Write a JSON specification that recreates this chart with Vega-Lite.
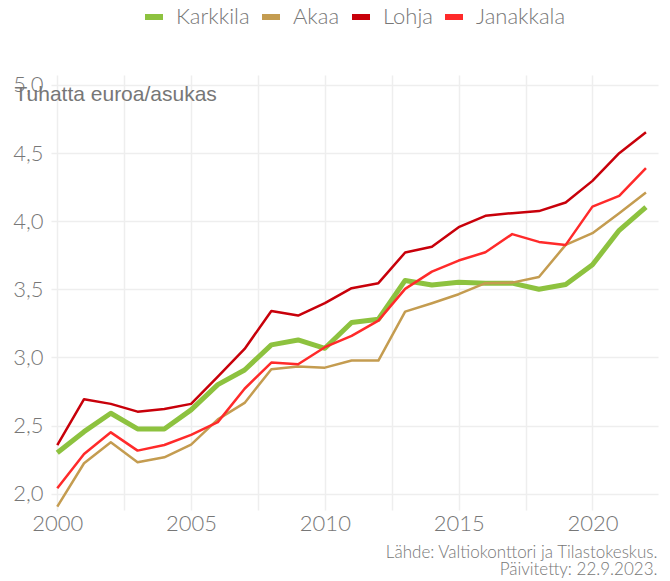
{
  "$schema": "https://vega.github.io/schema/vega-lite/v6.json",
  "width": 607,
  "height": 435,
  "autosize": {"type": "none"},
  "padding": {"left": 51, "top": 75, "right": 12, "bottom": 71},
  "background": "white",
  "config": {
    "view": {"stroke": null},
    "font": "Lato",
    "axis": {
      "grid": true,
      "gridColor": "#eeeeee",
      "gridWidth": 1.5,
      "domain": false,
      "ticks": false,
      "labelColor": "#777777",
      "labelFont": "Lato",
      "labelFontWeight": 300,
      "labelFontSize": 22
    },
    "legend": {
      "labelColor": "#777777",
      "labelFont": "Lato",
      "labelFontWeight": 300,
      "labelFontSize": 22
    }
  },
  "data": {
    "values": [
      {"vuosi": 2000, "kunta": "Karkkila", "arvo": 2.30},
      {"vuosi": 2001, "kunta": "Karkkila", "arvo": 2.455},
      {"vuosi": 2002, "kunta": "Karkkila", "arvo": 2.59},
      {"vuosi": 2003, "kunta": "Karkkila", "arvo": 2.475},
      {"vuosi": 2004, "kunta": "Karkkila", "arvo": 2.475},
      {"vuosi": 2005, "kunta": "Karkkila", "arvo": 2.615},
      {"vuosi": 2006, "kunta": "Karkkila", "arvo": 2.80},
      {"vuosi": 2007, "kunta": "Karkkila", "arvo": 2.908},
      {"vuosi": 2008, "kunta": "Karkkila", "arvo": 3.092},
      {"vuosi": 2009, "kunta": "Karkkila", "arvo": 3.128},
      {"vuosi": 2010, "kunta": "Karkkila", "arvo": 3.067},
      {"vuosi": 2011, "kunta": "Karkkila", "arvo": 3.256},
      {"vuosi": 2012, "kunta": "Karkkila", "arvo": 3.28},
      {"vuosi": 2013, "kunta": "Karkkila", "arvo": 3.565},
      {"vuosi": 2014, "kunta": "Karkkila", "arvo": 3.532},
      {"vuosi": 2015, "kunta": "Karkkila", "arvo": 3.552},
      {"vuosi": 2016, "kunta": "Karkkila", "arvo": 3.545},
      {"vuosi": 2017, "kunta": "Karkkila", "arvo": 3.545},
      {"vuosi": 2018, "kunta": "Karkkila", "arvo": 3.50},
      {"vuosi": 2019, "kunta": "Karkkila", "arvo": 3.535},
      {"vuosi": 2020, "kunta": "Karkkila", "arvo": 3.68},
      {"vuosi": 2021, "kunta": "Karkkila", "arvo": 3.933},
      {"vuosi": 2022, "kunta": "Karkkila", "arvo": 4.103},
      {"vuosi": 2000, "kunta": "Akaa", "arvo": 1.905},
      {"vuosi": 2001, "kunta": "Akaa", "arvo": 2.223},
      {"vuosi": 2002, "kunta": "Akaa", "arvo": 2.377},
      {"vuosi": 2003, "kunta": "Akaa", "arvo": 2.23},
      {"vuosi": 2004, "kunta": "Akaa", "arvo": 2.267},
      {"vuosi": 2005, "kunta": "Akaa", "arvo": 2.36},
      {"vuosi": 2006, "kunta": "Akaa", "arvo": 2.545},
      {"vuosi": 2007, "kunta": "Akaa", "arvo": 2.666},
      {"vuosi": 2008, "kunta": "Akaa", "arvo": 2.913},
      {"vuosi": 2009, "kunta": "Akaa", "arvo": 2.933},
      {"vuosi": 2010, "kunta": "Akaa", "arvo": 2.925},
      {"vuosi": 2011, "kunta": "Akaa", "arvo": 2.977},
      {"vuosi": 2012, "kunta": "Akaa", "arvo": 2.977},
      {"vuosi": 2013, "kunta": "Akaa", "arvo": 3.336},
      {"vuosi": 2014, "kunta": "Akaa", "arvo": 3.398},
      {"vuosi": 2015, "kunta": "Akaa", "arvo": 3.464},
      {"vuosi": 2016, "kunta": "Akaa", "arvo": 3.545},
      {"vuosi": 2017, "kunta": "Akaa", "arvo": 3.549},
      {"vuosi": 2018, "kunta": "Akaa", "arvo": 3.59},
      {"vuosi": 2019, "kunta": "Akaa", "arvo": 3.826},
      {"vuosi": 2020, "kunta": "Akaa", "arvo": 3.912},
      {"vuosi": 2021, "kunta": "Akaa", "arvo": 4.059},
      {"vuosi": 2022, "kunta": "Akaa", "arvo": 4.21},
      {"vuosi": 2000, "kunta": "Lohja", "arvo": 2.357},
      {"vuosi": 2001, "kunta": "Lohja", "arvo": 2.693},
      {"vuosi": 2002, "kunta": "Lohja", "arvo": 2.659},
      {"vuosi": 2003, "kunta": "Lohja", "arvo": 2.602},
      {"vuosi": 2004, "kunta": "Lohja", "arvo": 2.622},
      {"vuosi": 2005, "kunta": "Lohja", "arvo": 2.659},
      {"vuosi": 2006, "kunta": "Lohja", "arvo": 2.859},
      {"vuosi": 2007, "kunta": "Lohja", "arvo": 3.062},
      {"vuosi": 2008, "kunta": "Lohja", "arvo": 3.341},
      {"vuosi": 2009, "kunta": "Lohja", "arvo": 3.307},
      {"vuosi": 2010, "kunta": "Lohja", "arvo": 3.398},
      {"vuosi": 2011, "kunta": "Lohja", "arvo": 3.508},
      {"vuosi": 2012, "kunta": "Lohja", "arvo": 3.545},
      {"vuosi": 2013, "kunta": "Lohja", "arvo": 3.77},
      {"vuosi": 2014, "kunta": "Lohja", "arvo": 3.813},
      {"vuosi": 2015, "kunta": "Lohja", "arvo": 3.956},
      {"vuosi": 2016, "kunta": "Lohja", "arvo": 4.039},
      {"vuosi": 2017, "kunta": "Lohja", "arvo": 4.059},
      {"vuosi": 2018, "kunta": "Lohja", "arvo": 4.074},
      {"vuosi": 2019, "kunta": "Lohja", "arvo": 4.137},
      {"vuosi": 2020, "kunta": "Lohja", "arvo": 4.296},
      {"vuosi": 2021, "kunta": "Lohja", "arvo": 4.499},
      {"vuosi": 2022, "kunta": "Lohja", "arvo": 4.653},
      {"vuosi": 2000, "kunta": "Janakkala", "arvo": 2.04},
      {"vuosi": 2001, "kunta": "Janakkala", "arvo": 2.291},
      {"vuosi": 2002, "kunta": "Janakkala", "arvo": 2.45},
      {"vuosi": 2003, "kunta": "Janakkala", "arvo": 2.316},
      {"vuosi": 2004, "kunta": "Janakkala", "arvo": 2.357},
      {"vuosi": 2005, "kunta": "Janakkala", "arvo": 2.431},
      {"vuosi": 2006, "kunta": "Janakkala", "arvo": 2.525},
      {"vuosi": 2007, "kunta": "Janakkala", "arvo": 2.77},
      {"vuosi": 2008, "kunta": "Janakkala", "arvo": 2.962},
      {"vuosi": 2009, "kunta": "Janakkala", "arvo": 2.95},
      {"vuosi": 2010, "kunta": "Janakkala", "arvo": 3.075},
      {"vuosi": 2011, "kunta": "Janakkala", "arvo": 3.158},
      {"vuosi": 2012, "kunta": "Janakkala", "arvo": 3.27},
      {"vuosi": 2013, "kunta": "Janakkala", "arvo": 3.503},
      {"vuosi": 2014, "kunta": "Janakkala", "arvo": 3.63},
      {"vuosi": 2015, "kunta": "Janakkala", "arvo": 3.711},
      {"vuosi": 2016, "kunta": "Janakkala", "arvo": 3.772},
      {"vuosi": 2017, "kunta": "Janakkala", "arvo": 3.905},
      {"vuosi": 2018, "kunta": "Janakkala", "arvo": 3.848},
      {"vuosi": 2019, "kunta": "Janakkala", "arvo": 3.826},
      {"vuosi": 2020, "kunta": "Janakkala", "arvo": 4.107},
      {"vuosi": 2021, "kunta": "Janakkala", "arvo": 4.186},
      {"vuosi": 2022, "kunta": "Janakkala", "arvo": 4.389}
    ]
  },
  "mark": {"type": "line", "strokeJoin": "round", "strokeCap": "butt"},
  "encoding": {
    "x": {
      "field": "vuosi",
      "type": "quantitative",
      "scale": {"domain": [1999.765, 2022.45], "nice": false, "zero": false},
      "axis": {
        "values": [2000, 2002.5, 2005, 2007.5, 2010, 2012.5, 2015, 2017.5, 2020],
        "labelExpr": "datum.value % 5 === 0 ? '' + datum.value : ''",
        "labelPadding": 3,
        "title": ["Lähde: Valtiokonttori ja Tilastokeskus.", "Päivitetty: 22.9.2023."],
        "titleFont": "Lato",
        "titleFontWeight": 300,
        "titleFontSize": 17,
        "titleColor": "#777777",
        "titleAlign": "right",
        "titleAnchor": "end",
        "titleBaseline": "alphabetic",
        "titleLineHeight": 17,
        "titleX": 606,
        "titleY": 47
      }
    },
    "y": {
      "field": "arvo",
      "type": "quantitative",
      "scale": {"domain": [1.88, 5.073], "nice": false, "zero": false},
      "axis": {
        "values": [2, 2.5, 3, 3.5, 4, 4.5, 5],
        "labelExpr": "replace(format(datum.value, '.1f'), '.', ',')",
        "labelPadding": 8,
        "title": "Tuhatta euroa/asukas",
        "titleFont": "Liberation Sans",
        "titleFontWeight": "normal",
        "titleFontSize": 21,
        "titleColor": "#777777",
        "titleAngle": 0,
        "titleAlign": "left",
        "titleBaseline": "alphabetic",
        "titleX": -37,
        "titleY": 25
      }
    },
    "color": {
      "field": "kunta",
      "type": "nominal",
      "sort": ["Karkkila", "Akaa", "Lohja", "Janakkala"],
      "scale": {
        "domain": ["Karkkila", "Akaa", "Lohja", "Janakkala"],
        "range": ["#8dc23f", "#c49c50", "#c8000a", "#ff2a2a"]
      },
      "legend": {
        "orient": "none",
        "legendX": 91,
        "legendY": -70,
        "direction": "horizontal",
        "gridAlign": "none",
        "title": null,
        "symbolType": "stroke",
        "symbolStrokeWidth": 6,
        "symbolSize": 324,
        "columnPadding": 0,
        "labelOffset": 10,
        "padding": 0
      }
    },
    "strokeWidth": {
      "condition": {"test": "datum.kunta === 'Karkkila'", "value": 5},
      "value": 2.5
    }
  }
}
